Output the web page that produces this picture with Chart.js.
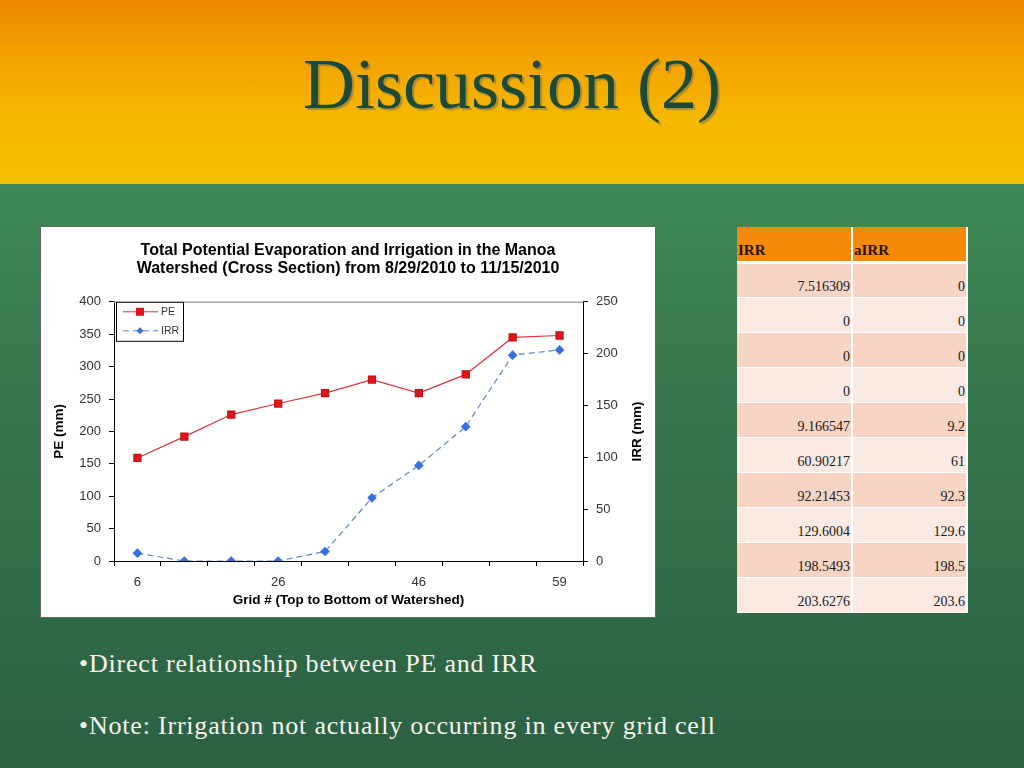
<!DOCTYPE html>
<html>
<head>
<meta charset="utf-8">
<script src="https://cdn.jsdelivr.net/npm/chart.js@4/dist/chart.umd.min.js"></script>
<style>
  html, body { margin: 0; padding: 0; }
  body {
    width: 1024px; height: 768px; overflow: hidden; position: relative;
    background: linear-gradient(to bottom, #2f6a46 0%, #2b5e41 100%);
    font-family: "Liberation Serif", serif;
  }
  #top {
    position: absolute; left: 0; top: 0; width: 1024px; height: 186px;
    background: linear-gradient(to bottom, #ee8800 0px, #f3a300 60px, #f5b800 120px, #f4c200 186px);
  }
  #green {
    position: absolute; left: 0; top: 184px; width: 1024px; height: 584px;
    background: linear-gradient(to bottom, #3f8a58 0px, #3a7d50 120px, #336f49 330px, #2c6143 584px);
  }
  #heading {
    position: absolute; left: 0; top: 48px; width: 1024px; text-align: center;
    font-size: 72px; color: #1b4a36; line-height: 1;
    text-shadow: 2px 2px 1px rgba(110, 110, 90, 0.55);
  }
  #chartBox {
    position: absolute; left: 40px; top: 226px; width: 614px; height: 390px;
    border: 1px solid #5f6f66; background: #fff;
  }
  #chartBox canvas { display: block; }
  #tbl {
    position: absolute; left: 737px; top: 227px; border-collapse: collapse;
    font-family: "Liberation Serif", serif; font-size: 14px; color: #1a1a1a;
  }
  #tbl td, #tbl th {
    width: 115px; height: 35px; padding: 0 1px 0 1px; box-sizing: border-box;
    vertical-align: bottom; border-right: 2px solid #fff; border-bottom: 1px solid #fff;
  }
  #tbl th { background: #f58a08; text-align: left; font-size: 15px; color: #2a1400; border-bottom: 3px solid #fff; padding-bottom: 2px; }
  #tbl td { text-align: right; padding-bottom: 2px; }
  #tbl tr.odd td { background: #f8d4c4; }
  #tbl tr.even td { background: #fbe9e4; }
  .bullet {
    position: absolute; left: 79px; color: #f4f4ee; font-size: 26px; letter-spacing: 0.8px;
  }
</style>
</head>
<body>
<div id="top"></div>
<div id="green"></div>
<div id="heading">Discussion (2)</div>
<div id="chartBox"><canvas id="chartPE" width="614" height="390"></canvas></div>
<table id="tbl"></table>
<div class="bullet" style="top:649px;">•Direct relationship between PE and IRR</div>
<div class="bullet" style="top:711px;">•Note: Irrigation not actually occurring in every grid cell</div>

<script>
// grid cells, only every third one is labelled on the axis
const gridLabels = ['6', '', '', '26', '', '', '46', '', '', '59'];
const peValues = [159, 192, 226, 243, 259, 280, 259, 288, 345, 348];
const irrValues = [7.516309, 0, 0, 0, 9.166547, 60.90217, 92.21453, 129.6004, 198.5493, 203.6276];
const irrText = ['7.516309', '0', '0', '0', '9.166547', '60.90217', '92.21453', '129.6004', '198.5493', '203.6276'];
const airrText = ['0', '0', '0', '0', '9.2', '61', '92.3', '129.6', '198.5', '203.6'];
const tableHeader = ['IRR', 'aIRR'];

// table on the right
const tbl = document.getElementById('tbl');
let html = '<tr><th>' + tableHeader[0] + '</th><th>' + tableHeader[1] + '</th></tr>';
irrText.forEach((v, i) => {
    html += '<tr class="' + (i % 2 === 0 ? 'odd' : 'even') + '"><td>' + v + '</td><td>' + airrText[i] + '</td></tr>';
});
tbl.innerHTML = html;

const axisFont = { family: 'Liberation Sans', size: 13 };
const titleFont = { family: 'Liberation Sans', size: 13.5, weight: 'bold' };

// top border, legend box and right axis title (reads bottom to top like the original)
const extras = {
    id: 'extras',
    afterDraw(chart) {
        const ctx = chart.ctx;
        const a = chart.chartArea;
        ctx.save();
        ctx.strokeStyle = '#a8a8a8';
        ctx.lineWidth = 1.5;
        ctx.beginPath();
        ctx.moveTo(a.left, a.top + 0.5);
        ctx.lineTo(a.right, a.top + 0.5);
        ctx.stroke();

        // legend
        const lx = a.left + 2, ly = a.top, lw = 67, lh = 39;
        ctx.fillStyle = '#fff';
        ctx.fillRect(lx, ly, lw, lh);
        ctx.strokeStyle = '#000';
        ctx.lineWidth = 1;
        ctx.strokeRect(lx + 0.5, ly + 0.5, lw, lh);
        const rows = [
            { y: ly + 10, ds: chart.data.datasets[0] },
            { y: ly + 29, ds: chart.data.datasets[1] }
        ];
        rows.forEach(r => {
            ctx.strokeStyle = r.ds.borderColor;
            ctx.setLineDash(r.ds.borderDash || []);
            ctx.beginPath();
            ctx.moveTo(lx + 7, r.y);
            ctx.lineTo(lx + 42, r.y);
            ctx.stroke();
            ctx.setLineDash([]);
            ctx.fillStyle = r.ds.pointBackgroundColor;
            const cx = lx + 24;
            if (r.ds.pointStyle === 'rect') {
                ctx.fillRect(cx - 4, r.y - 4, 8, 8);
            } else {
                ctx.beginPath();
                ctx.moveTo(cx, r.y - 3.5);
                ctx.lineTo(cx + 3.5, r.y);
                ctx.lineTo(cx, r.y + 3.5);
                ctx.lineTo(cx - 3.5, r.y);
                ctx.closePath();
                ctx.fill();
            }
            ctx.fillStyle = '#333';
            ctx.font = '10.5px "Liberation Sans"';
            ctx.textBaseline = 'middle';
            ctx.textAlign = 'left';
            ctx.fillText(r.ds.label, lx + 45, r.y);
        });

        // right axis title
        ctx.translate(chart.width - 18, (a.top + a.bottom) / 2);
        ctx.rotate(-Math.PI / 2);
        ctx.font = 'bold 13.5px "Liberation Sans"';
        ctx.fillStyle = '#000';
        ctx.textAlign = 'center';
        ctx.textBaseline = 'middle';
        ctx.fillText('IRR (mm)', 0, 0);
        ctx.restore();
    }
};

const ctxPE = document.getElementById('chartPE').getContext('2d');
const chartPE = new Chart(ctxPE, {
    type: 'line',
    data: {
        labels: gridLabels,
        datasets: [
            {
                label: 'PE',
                data: peValues,
                yAxisID: 'y',
                borderColor: '#d8353a',
                backgroundColor: '#e3131b',
                pointBackgroundColor: '#e3131b',
                pointBorderColor: '#c0101a',
                pointStyle: 'rect',
                pointRadius: 5,
                borderWidth: 1.2,
                tension: 0
            },
            {
                label: 'IRR',
                data: irrValues,
                yAxisID: 'y1',
                borderColor: '#5b86cc',
                backgroundColor: '#3a6fe0',
                pointBackgroundColor: '#3a6fe0',
                pointBorderColor: '#3a6fe0',
                pointStyle: 'rectRot',
                pointRadius: 4,
                borderWidth: 1.2,
                borderDash: [6, 4],
                tension: 0
            }
        ]
    },
    options: {
        responsive: false,
        animation: false,
        layout: { padding: 0 },
        plugins: {
            legend: { display: false },
            tooltip: { enabled: false },
            title: {
                display: true,
                text: ['Total Potential Evaporation and Irrigation in the Manoa',
                       'Watershed (Cross Section) from 8/29/2010 to 11/15/2010'],
                font: { family: 'Liberation Sans', size: 16, weight: 'bold', lineHeight: 1.15 },
                color: '#000',
                padding: { top: 14, bottom: 24 }
            }
        },
        scales: {
            x: {
                offset: true,
                grid: { offset: true, drawOnChartArea: false, drawTicks: true, tickLength: 5, color: '#000' },
                border: { color: '#000' },
                ticks: { autoSkip: false, maxRotation: 0, font: axisFont, color: '#333', padding: 9 },
                title: { display: true, text: 'Grid # (Top to Bottom of Watershed)', font: titleFont, color: '#000', padding: { top: 0, bottom: 9 } },
                afterFit: s => { s.height = 56; }
            },
            y: {
                position: 'left',
                min: 0, max: 400,
                ticks: { stepSize: 50, font: axisFont, color: '#333', padding: 8 },
                grid: { drawOnChartArea: false, tickLength: 5, color: '#000' },
                border: { color: '#000' },
                title: { display: true, text: 'PE (mm)', font: titleFont, color: '#000', padding: { top: 10, bottom: 0 } },
                afterFit: s => { s.width = 73; }
            },
            y1: {
                position: 'right',
                min: 0, max: 250,
                ticks: { stepSize: 50, font: axisFont, color: '#333', padding: 8 },
                grid: { drawOnChartArea: false, tickLength: 5, color: '#000' },
                border: { color: '#000' },
                afterFit: s => { s.width = 72; }
            }
        }
    },
    plugins: [extras]
});
</script>
</body>
</html>
